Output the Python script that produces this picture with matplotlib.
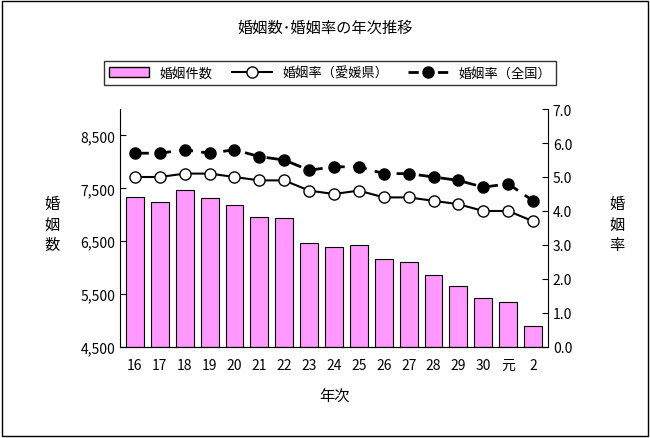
import matplotlib
matplotlib.use("Agg")
import matplotlib.pyplot as plt
from matplotlib.lines import Line2D
from matplotlib.patches import Patch, Rectangle

plt.rcParams['font.family'] = 'Noto Sans CJK JP'

years = ["16","17","18","19","20","21","22","23","24","25","26","27","28","29","30","元","2"]
marriages = [7344,7249,7476,7325,7192,6964,6945,6472,6396,6434,6168,6111,5865,5656,5429,5353,4898]
rate_ehime = [5.0,5.0,5.1,5.1,5.0,4.9,4.9,4.6,4.5,4.6,4.4,4.4,4.3,4.2,4.0,4.0,3.7]
rate_japan = [5.7,5.7,5.8,5.7,5.8,5.6,5.5,5.2,5.3,5.3,5.1,5.1,5.0,4.9,4.7,4.8,4.3]

W, H = 650, 439
fig = plt.figure(figsize=(W/100, H/100), dpi=100)
fig.patches.append(Rectangle((2/W, 2/H), 1-4/W, 1-4/H, transform=fig.transFigure,
                             fill=False, edgecolor='black', lw=1))
ax = fig.add_axes([120/W, 1-348/H, 428/W, 238/H])
x = range(len(years))
ax.bar(x, [m-4500 for m in marriages], bottom=4500, width=0.72, color='#ff99ff', edgecolor='black', lw=0.8)
ax.set_ylim(4500, 9000)
ax.set_yticks([4500,5500,6500,7500,8500])
ax.set_yticklabels(["4,500","5,500","6,500","7,500","8,500"])
ax.set_xlim(-0.6, len(years)-0.4)
ax.set_xticks(list(x))
ax.set_xticklabels(years)
ax2 = ax.twinx()
ax2.plot(x, rate_ehime, '-', color='black', lw=1.5, marker='o', ms=8, mfc='white', mec='black')
ax2.plot(x, rate_japan, '--', color='black', lw=2, dashes=(5,3), marker='o', ms=8, mfc='black')
ax2.set_ylim(0, 7.0)
ax2.set_yticks([i*1.0 for i in range(8)])
ax2.set_yticklabels([f"{i:.1f}" for i in range(8)])
for a in (ax, ax2):
    for s in ['top']:
        a.spines[s].set_visible(False)
    a.tick_params(labelsize=10, length=4, direction='in')
ax.spines['right'].set_visible(False)
ax.tick_params(axis='x', length=0, pad=8)
ax2.spines['left'].set_visible(False)

fig.text(0.5, 1-28/H, "婚姻数･婚姻率の年次推移", ha='center', va='center', fontsize=11)
fig.text(335/W, 1-397/H, "年次", ha='center', va='center', fontsize=11)
fig.text(52/W, 1-225/H, "婚\n姻\n数", ha='center', va='center', fontsize=11, linespacing=1.3)
fig.text(617/W, 1-225/H, "婚\n姻\n率", ha='center', va='center', fontsize=11, linespacing=1.3)

handles = [Patch(facecolor='#ff99ff', edgecolor='black'),
           Line2D([], [], color='black', lw=1.5, marker='o', ms=8, mfc='white'),
           Line2D([], [], color='black', lw=2, ls='--', marker='o', ms=8, mfc='black')]
leg = fig.legend(handles, ["婚姻件数", "婚姻率（愛媛県）", "婚姻率（全国）"], ncol=3,
                 loc='center', bbox_to_anchor=(330/W, 1-74/H), fontsize=9.5,
                 frameon=True, fancybox=False, edgecolor='black', handlelength=3,
                 columnspacing=1.5, borderpad=0.4)
leg.get_frame().set_linewidth(1)
fig.savefig("out.png", dpi=100)
